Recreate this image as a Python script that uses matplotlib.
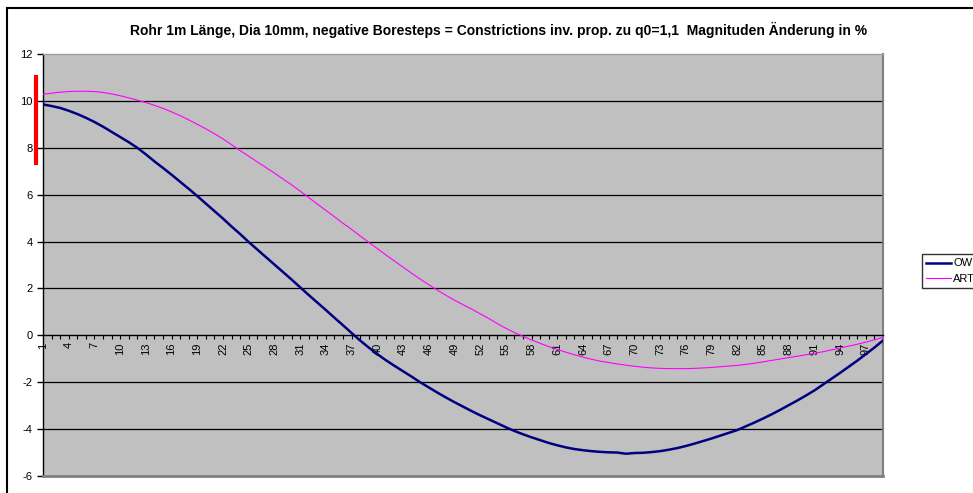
import matplotlib
matplotlib.use("Agg")
import matplotlib.pyplot as plt
from matplotlib.patches import Rectangle
from matplotlib.lines import Line2D

plt.rcParams['font.family'] = ['Liberation Sans', 'DejaVu Sans']
plt.rcParams['axes.unicode_minus'] = False

TITLE = "Rohr 1m Länge, Dia 10mm, negative Boresteps = Constrictions inv. prop. zu q0=1,1  Magnituden Änderung in %"

# categories 1..99
categories = list(range(1, 100))

ow = [9.85, 9.78, 9.70, 9.58, 9.44, 9.28, 9.10, 8.90, 8.68, 8.46,
      8.24, 8.00, 7.72, 7.42, 7.14, 6.85, 6.55, 6.25, 5.94, 5.62,
      5.30, 4.98, 4.64, 4.32, 3.98, 3.66, 3.34, 3.02, 2.70, 2.38,
      2.05, 1.72, 1.40, 1.08, 0.75, 0.43, 0.10, -0.22, -0.52, -0.80,
      -1.06, -1.30, -1.53, -1.76, -2.00, -2.22, -2.44, -2.65, -2.85, -3.04,
      -3.23, -3.41, -3.58, -3.75, -3.92, -4.08, -4.22, -4.35, -4.47, -4.59,
      -4.69, -4.78, -4.85, -4.90, -4.94, -4.97, -4.99, -5.00, -5.05, -5.02,
      -5.01, -4.98, -4.94, -4.88, -4.81, -4.72, -4.62, -4.51, -4.40, -4.28,
      -4.16, -4.04, -3.88, -3.72, -3.55, -3.37, -3.18, -2.98, -2.78, -2.57,
      -2.35, -2.10, -1.85, -1.60, -1.34, -1.08, -0.80, -0.52, -0.22]

art = [10.28, 10.33, 10.37, 10.40, 10.41, 10.41, 10.40, 10.36, 10.30, 10.22,
       10.13, 10.03, 9.93, 9.81, 9.68, 9.53, 9.37, 9.19, 9.00, 8.81,
       8.60, 8.38, 8.13, 7.88, 7.64, 7.40, 7.16, 6.92, 6.67, 6.42,
       6.15, 5.88, 5.60, 5.33, 5.06, 4.78, 4.52, 4.24, 3.97, 3.70,
       3.43, 3.17, 2.91, 2.65, 2.40, 2.16, 1.93, 1.71, 1.50, 1.31,
       1.12, 0.92, 0.72, 0.50, 0.30, 0.12, -0.04, -0.20, -0.34, -0.48,
       -0.60, -0.72, -0.83, -0.93, -1.02, -1.10, -1.16, -1.22, -1.27, -1.32,
       -1.36, -1.39, -1.41, -1.42, -1.42, -1.42, -1.41, -1.39, -1.37, -1.34,
       -1.31, -1.28, -1.24, -1.19, -1.13, -1.07, -1.01, -0.95, -0.89, -0.83,
       -0.77, -0.70, -0.62, -0.54, -0.46, -0.38, -0.29, -0.19, -0.09]

y_ticks = [-6, -4, -2, 0, 2, 4, 6, 8, 10, 12]
x_labels = [str(c) if (c - 1) % 3 == 0 else "" for c in categories]

fig = plt.figure(figsize=(9.73, 4.93), dpi=100)

# chart area border (runs off the right/bottom edge like the original)
fig.patches.append(Rectangle((7 / 973, -0.1), 1.2, 1 - 8 / 493 + 0.1,
                             transform=fig.transFigure, fill=False,
                             edgecolor='black', linewidth=1.5))

ax = fig.add_axes([43 / 973, 17 / 493, 840 / 973, 422 / 493])
ax.set_facecolor('#C0C0C0')

# move the category axis to y=0 first (this resets the ticks)
ax.spines['top'].set_visible(False)
ax.spines['right'].set_color('#808080')
ax.spines['right'].set_linewidth(1.5)
ax.spines['left'].set_linewidth(1)
ax.spines['bottom'].set_position(('data', 0))
ax.spines['bottom'].set_linewidth(1)

for v in y_ticks:
    if v not in (-6, 0, 12):
        ax.axhline(v, color='black', linewidth=0.9, zorder=1)

ax.plot(categories, ow, color='#000080', linewidth=1.8, label='OW', zorder=3)
ax.plot(categories, art, color='#FF00FF', linewidth=0.8, label='ART', zorder=3)

ax.set_xlim(1, 99)
ax.set_ylim(-6, 12)
ax.set_yticks(y_ticks)
ax.set_xticks(categories)
ax.set_xticklabels(x_labels, rotation=90, fontsize=8)
ax.tick_params(axis='y', labelsize=8, length=4, width=1, direction='out')
ax.tick_params(axis='x', length=3, width=0.8, direction='out', pad=2)

ax.plot([1, 99], [-6, -6], color='#808080', linewidth=2, clip_on=False, zorder=4)
ax.plot([1, 99], [12, 12], color='#A0A0A0', linewidth=1, clip_on=False, zorder=4)

fig.text(0.512, 1 - 30 / 493, TITLE, ha='center', va='center',
         fontsize=10, fontweight='bold')

# red marker bar left of the axis
fig.add_artist(Line2D([36 / 973, 36 / 973], [1 - 163 / 493, 1 - 77 / 493],
                      color='#FF0000', linewidth=3, transform=fig.transFigure))

leg = fig.legend(loc='upper left', bbox_to_anchor=(922 / 973, 1 - 254 / 493),
                 frameon=True, fancybox=False, fontsize=8, handlelength=2.2,
                 handletextpad=0.2, borderpad=0.4, labelspacing=0.5,
                 borderaxespad=0)
leg.get_frame().set_edgecolor('black')
leg.get_frame().set_linewidth(1)

fig.savefig('out.png', dpi=100)
